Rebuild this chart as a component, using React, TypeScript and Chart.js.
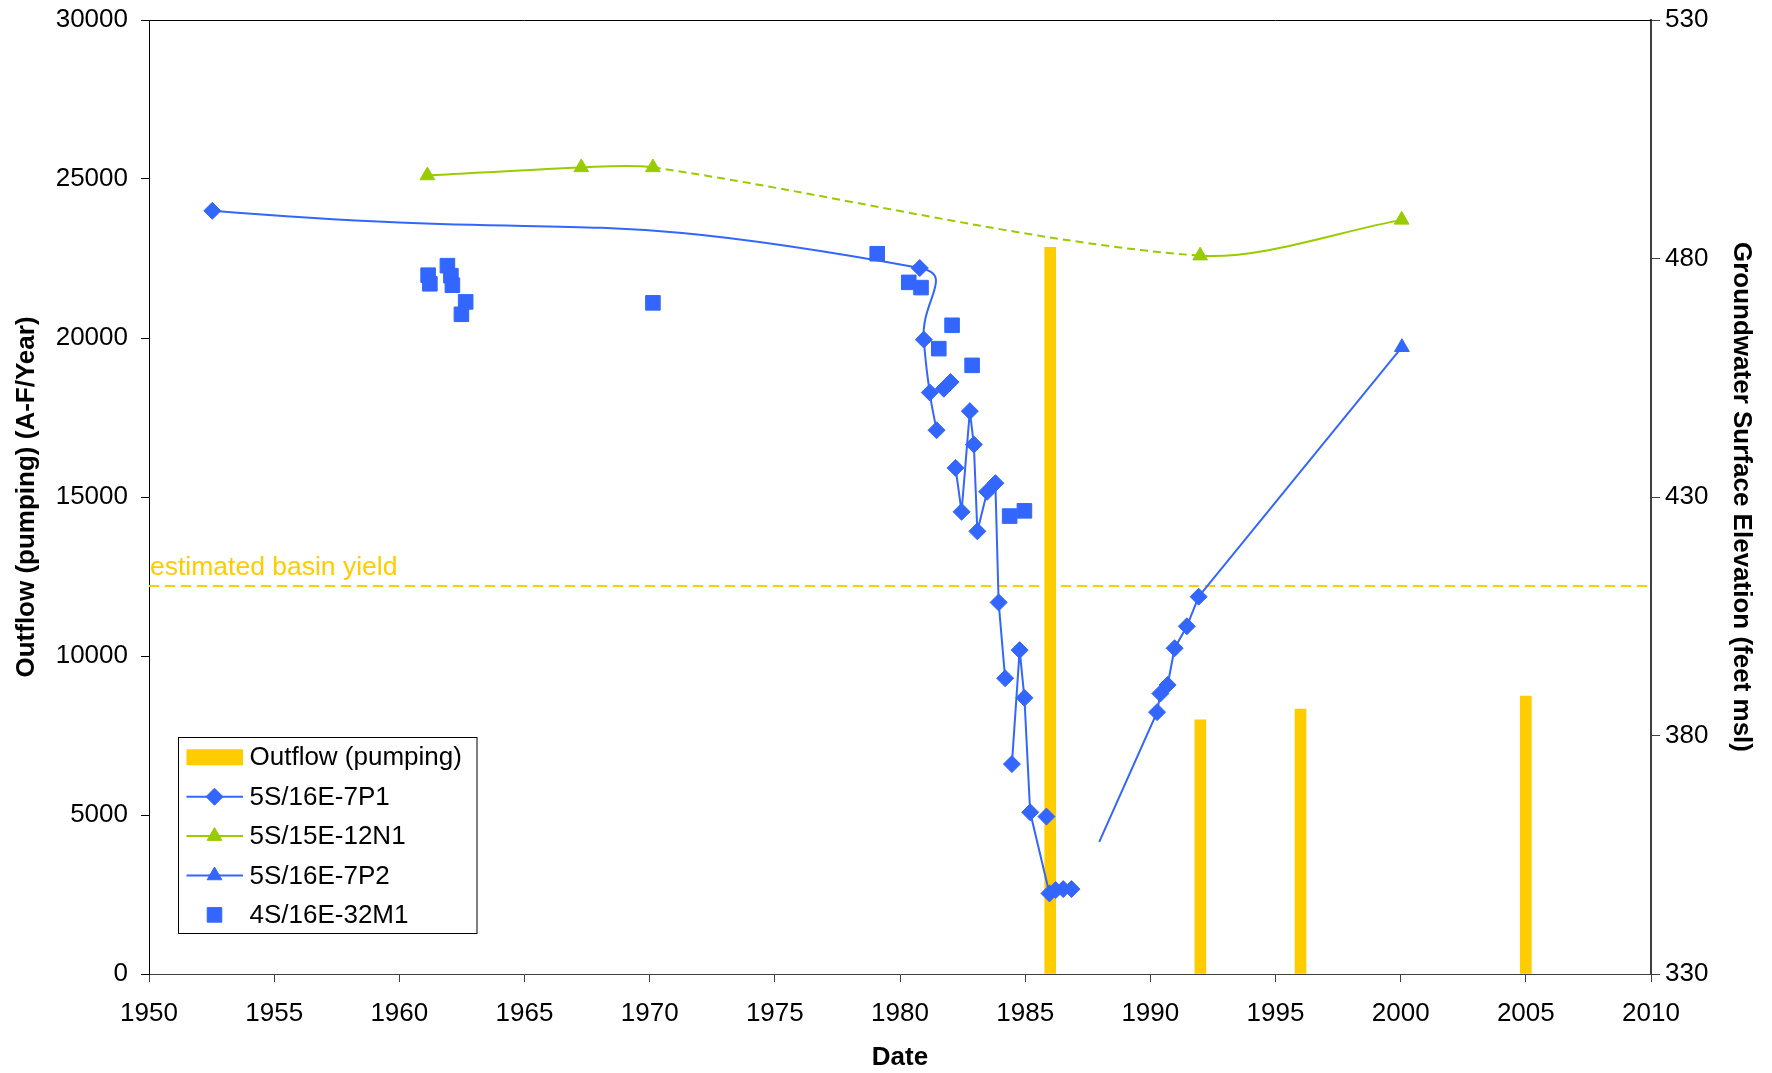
import React, { useEffect, useRef } from 'react';
import { Chart, registerables } from 'chart.js';

Chart.register(...registerables);

const FONT = "'Liberation Sans', Arial, Helvetica, sans-serif";
const BLUE = '#3366FF';
const GREEN = '#99CC00';
const GOLD = '#FFCC00';

// axes
const xMin = 1950, xMax = 2010, xStep = 5;
const leftMin = 0, leftMax = 30000, leftStep = 5000;
const rightMin = 330, rightMax = 530, rightStep = 50;

// Outflow (pumping), A-F/Year
const pumpYears = [1986, 1992, 1996, 2005];
const pumpOutflow = [22850, 7990, 8330, 8740];
const basinYield = 12200;
const basinYieldLabel = 'estimated basin yield';

// 5S/16E-7P1 (feet msl) - smoothed early part
const p1SmoothDates = [1952.53, 1980.79, 1980.95, 1981.19, 1981.46];
const p1SmoothLevels = [490.0, 478.0, 463.0, 451.9, 444.0];

// 5S/16E-7P1 (feet msl) - later part, null = break in the line
const p1Dates = [
  1981.75, 1982.02, null,
  1982.22, 1982.46, 1982.79, 1982.95, 1983.09, 1983.48, 1983.81, 1983.94, 1984.2, null,
  1984.47, 1984.78, 1984.97, 1985.2, 1985.97, 1986.22, 1986.52, 1986.85, null,
  1985.85, null,
  1987.96, 1990.27, 1990.4, 1990.69, 1990.97, 1991.46, 1991.93,
];
const p1Levels = [
  452.7, 454.1, null,
  436.1, 426.9, 448.0, 441.0, 422.8, 431.1, 432.9, 407.9, 392.0, null,
  374.0, 397.9, 387.9, 363.9, 346.9, 347.6, 347.8, 347.8, null,
  363.0, null,
  357.7, 384.9, 388.8, 390.6, 398.3, 402.9, 409.1,
];
const p1NoMarkerDates = [1987.96];

// 5S/15E-12N1 (feet msl)
const n1Dates = [1961.12, 1967.27, 1970.13, 1991.99, 2000.04];
const n1Levels = [497.4, 499.1, 499.1, 480.6, 488.1];
const n1DashedSegment = 2;

// 5S/16E-7P2 (feet msl)
const p2Dates = [1991.93, 2000.05];
const p2Levels = [409.1, 461.4];
const p2NoMarkerDates = [1991.93];

// 4S/16E-32M1 (feet msl)
const m1Dates = [1961.15, 1961.22, 1961.92, 1962.06, 1962.12, 1962.65, 1962.48, 1970.13,
  1979.09, 1980.35, 1980.84, 1981.55, 1982.08, 1982.88, 1984.38, 1984.97];
const m1Levels = [476.5, 474.7, 478.5, 476.4, 474.4, 470.9, 468.3, 470.7,
  481.0, 475.0, 473.9, 461.1, 466.0, 457.6, 426.0, 427.1];

const pts = (dates: (number | null)[], vals: (number | null)[]) =>
  dates.map((d, i) => ({ x: d, y: vals[i] }));

function drawMarker(ctx: CanvasRenderingContext2D, style: string, x: number, y: number, r: number, color: string) {
  ctx.beginPath();
  if (style === 'rectRot') {
    ctx.moveTo(x - r, y); ctx.lineTo(x, y - r); ctx.lineTo(x + r, y); ctx.lineTo(x, y + r);
  } else if (style === 'triangle') {
    ctx.moveTo(x, y - r); ctx.lineTo(x + r * 0.866, y + r * 0.5); ctx.lineTo(x - r * 0.866, y + r * 0.5);
  } else {
    const s = r * Math.SQRT1_2;
    ctx.rect(x - s, y - s, 2 * s, 2 * s);
  }
  ctx.closePath();
  ctx.fillStyle = color;
  ctx.fill();
  ctx.strokeStyle = color;
  ctx.lineWidth = 1;
  ctx.stroke();
}

const extrasPlugin = {
  id: 'extras',
  afterDraw(chart: any) {
    const { ctx, chartArea, scales } = chart;
    ctx.save();
    // top border of plot
    ctx.strokeStyle = '#000';
    ctx.lineWidth = 1;
    ctx.beginPath();
    ctx.moveTo(chartArea.left, chartArea.top + 0.5);
    ctx.lineTo(chartArea.right, chartArea.top + 0.5);
    ctx.stroke();

    // basin yield label
    ctx.font = `26.5px ${FONT}`;
    ctx.fillStyle = GOLD;
    ctx.textAlign = 'left';
    ctx.textBaseline = 'alphabetic';
    ctx.fillText(basinYieldLabel, chartArea.left + 1, scales.y.getPixelForValue(basinYield) - 11);

    // legend box
    const x0 = chartArea.left + 28.5;
    const h = 196;
    const w = 298.5;
    const y0 = chartArea.bottom - 41.5 - h;
    ctx.fillStyle = '#fff';
    ctx.fillRect(x0, y0, w, h);
    ctx.strokeStyle = '#000';
    ctx.lineWidth = 1;
    ctx.strokeRect(Math.round(x0) + 0.5, Math.round(y0) + 0.5, w, h);
    const items = chart.data.datasets.filter((d: any) => d.inLegend);
    items.forEach((d: any, i: number) => {
      const cy = y0 + 20.8 + i * 39.4;
      const sx0 = x0 + 9, sx1 = x0 + 65.5, mx = x0 + 37;
      if (d.legendKind === 'bar') {
        ctx.fillStyle = d.backgroundColor;
        ctx.fillRect(sx0, cy - 8, sx1 - sx0, 16);
      } else {
        if (d.legendKind === 'line') {
          ctx.strokeStyle = d.borderColor;
          ctx.lineWidth = 2;
          ctx.setLineDash([]);
          ctx.beginPath();
          ctx.moveTo(sx0, cy);
          ctx.lineTo(sx1, cy);
          ctx.stroke();
        }
        drawMarker(ctx, d.pointStyle, mx, cy, d.legendRadius, d.pointBackgroundColor);
      }
      ctx.fillStyle = '#000';
      ctx.font = `26px ${FONT}`;
      ctx.textAlign = 'left';
      ctx.textBaseline = 'middle';
      ctx.fillText(d.label, x0 + 72, cy + 1);
    });
    ctx.restore();
  },
};

const noPad = (s: any) => {
  s.paddingTop = 0;
  s.paddingBottom = 0;
  s.paddingLeft = 0;
  s.paddingRight = 0;
};

export default function App() {
  const ref = useRef<HTMLCanvasElement | null>(null);

  useEffect(() => {
    document.body.style.margin = '0';
    if (!ref.current) return;
    const tickFont = { family: FONT, size: 26 };
    const titleFont = { family: FONT, size: 26, weight: 'bold' as const };

    const chart = new Chart(ref.current, {
      type: 'line',
      data: {
        datasets: [
          {
            type: 'bar',
            label: 'Outflow (pumping)',
            data: pts(pumpYears, pumpOutflow),
            backgroundColor: GOLD,
            borderWidth: 0,
            barThickness: 11,
            yAxisID: 'y',
            order: 10,
            inLegend: true,
            legendKind: 'bar',
          } as any,
          {
            label: '5S/16E-7P1',
            data: pts(p1Dates, p1Levels),
            borderColor: BLUE,
            borderWidth: 2,
            tension: 0,
            pointStyle: 'rectRot',
            pointRadius: (c: any) => (c.raw && p1NoMarkerDates.includes(c.raw.x) ? 0 : 8.5),
            pointBackgroundColor: BLUE,
            pointBorderColor: BLUE,
            pointBorderWidth: 1,
            yAxisID: 'y1',
            spanGaps: false,
            inLegend: true,
            legendKind: 'line',
            legendRadius: 8.5,
          } as any,
          {
            label: '5S/15E-12N1',
            data: pts(n1Dates, n1Levels),
            borderColor: GREEN,
            borderWidth: 2,
            tension: 0.3,
            segment: {
              borderDash: (c: any) => (c.p0DataIndex === n1DashedSegment ? [8, 5] : undefined),
            },
            pointStyle: 'triangle',
            pointRadius: 8.5,
            pointBackgroundColor: GREEN,
            pointBorderColor: GREEN,
            pointBorderWidth: 1,
            yAxisID: 'y1',
            inLegend: true,
            legendKind: 'line',
            legendRadius: 8.5,
          } as any,
          {
            label: '5S/16E-7P2',
            data: pts(p2Dates, p2Levels),
            borderColor: BLUE,
            borderWidth: 2,
            tension: 0,
            pointStyle: 'triangle',
            pointRadius: (c: any) => (c.raw && p2NoMarkerDates.includes(c.raw.x) ? 0 : 8.5),
            pointBackgroundColor: BLUE,
            pointBorderColor: BLUE,
            pointBorderWidth: 1,
            yAxisID: 'y1',
            inLegend: true,
            legendKind: 'line',
            legendRadius: 8.5,
          } as any,
          {
            label: '4S/16E-32M1',
            data: pts(m1Dates, m1Levels),
            showLine: false,
            borderColor: BLUE,
            pointStyle: 'rect',
            pointRadius: 10.3,
            pointBackgroundColor: BLUE,
            pointBorderColor: BLUE,
            pointBorderWidth: 1,
            yAxisID: 'y1',
            inLegend: true,
            legendKind: 'marker',
            legendRadius: 10.3,
          } as any,
          {
            label: '5S/16E-7P1 (early)',
            data: pts(p1SmoothDates, p1SmoothLevels),
            borderColor: BLUE,
            borderWidth: 2,
            tension: 0.55,
            pointStyle: 'rectRot',
            pointRadius: 8.5,
            pointBackgroundColor: BLUE,
            pointBorderColor: BLUE,
            pointBorderWidth: 1,
            yAxisID: 'y1',
            inLegend: false,
          } as any,
          {
            label: basinYieldLabel,
            data: [{ x: xMin, y: basinYield }, { x: xMax, y: basinYield }],
            borderColor: GOLD,
            borderWidth: 2,
            borderDash: [10, 6],
            pointRadius: 0,
            yAxisID: 'y',
            order: 5,
            inLegend: false,
          } as any,
        ],
      },
      options: {
        animation: false,
        responsive: true,
        maintainAspectRatio: false,
        devicePixelRatio: 1,
        layout: { padding: { top: 20, left: 0, right: 0, bottom: 0 } },
        plugins: {
          legend: { display: false },
          tooltip: { enabled: false },
        },
        scales: {
          x: {
            type: 'linear',
            min: xMin,
            max: xMax,
            offset: false,
            ticks: {
              stepSize: xStep,
              font: tickFont,
              color: '#000',
              padding: 16,
              maxRotation: 0,
              callback: (v: any) => String(v),
            },
            grid: { drawOnChartArea: false, drawTicks: true, tickLength: 8, color: '#404040', offset: false },
            border: { display: true, color: '#404040', width: 1 },
            title: { display: true, text: 'Date', font: titleFont, color: '#000', padding: { top: 0, bottom: 0 } },
            afterFit: (s: any) => { s.height = 99; noPad(s); },
          },
          y: {
            type: 'linear',
            position: 'left',
            min: leftMin,
            max: leftMax,
            ticks: {
              stepSize: leftStep,
              font: tickFont,
              color: '#000',
              padding: 13,
              callback: (v: any) => String(v),
            },
            grid: { drawOnChartArea: false, drawTicks: true, tickLength: 8, color: '#000' },
            border: { display: true, color: '#000', width: 1 },
            title: { display: true, text: 'Outflow (pumping) (A-F/Year)', font: titleFont, color: '#000', padding: { top: 11, bottom: 0 } },
            afterFit: (s: any) => { s.width = 149; noPad(s); },
          },
          y1: {
            type: 'linear',
            position: 'right',
            min: rightMin,
            max: rightMax,
            ticks: {
              stepSize: rightStep,
              font: tickFont,
              color: '#000',
              padding: 5,
              callback: (v: any) => String(v),
            },
            grid: { drawOnChartArea: false, drawTicks: true, tickLength: 9, color: '#404040' },
            border: { display: true, color: '#404040', width: 2 },
            title: { display: true, text: 'Groundwater Surface Elevation (feet msl)', font: titleFont, color: '#000', padding: { top: 15, bottom: 0 } },
            afterFit: (s: any) => { s.width = 121; noPad(s); },
          },
        },
      } as any,
      plugins: [extrasPlugin],
    });
    return () => chart.destroy();
  }, []);

  return (
    <div style={{ width: 1772, height: 1073, position: 'relative', background: '#fff' }}>
      <canvas ref={ref} />
    </div>
  );
}
